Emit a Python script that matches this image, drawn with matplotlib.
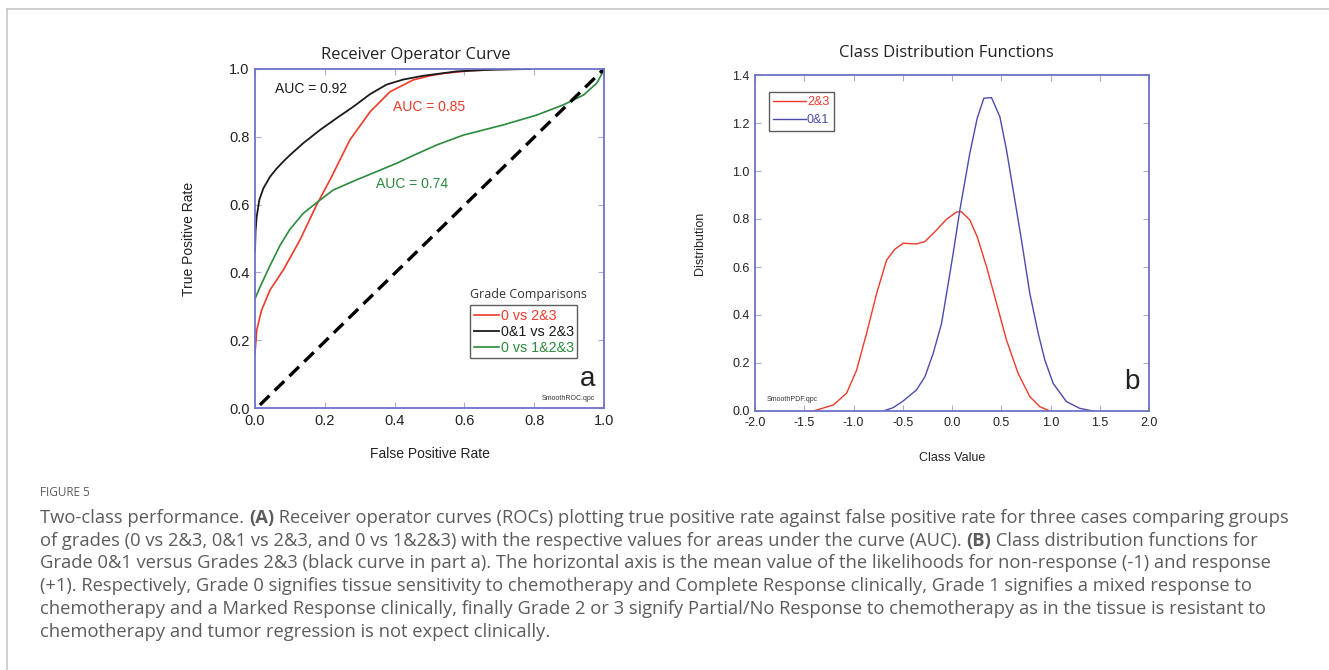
import matplotlib.pyplot as plt
from matplotlib.lines import Line2D

# ROC curves (false positive rate, true positive rate)
fpr_0_vs_23 = [0.0, 0.005, 0.019, 0.043, 0.081, 0.129, 0.177, 0.215, 0.272, 0.330, 0.387, 0.454,
               0.501, 0.540, 0.616, 0.70, 0.79]
tpr_0_vs_23 = [0.161, 0.230, 0.289, 0.348, 0.407, 0.496, 0.600, 0.673, 0.791, 0.874, 0.933, 0.968,
               0.980, 0.987, 0.995, 0.999, 1.0]

fpr_01_vs_23 = [0.0, 0.0015, 0.0048, 0.0124, 0.024, 0.043, 0.060, 0.080, 0.100, 0.138, 0.186, 0.234,
                0.282, 0.330, 0.377, 0.425, 0.482, 0.578, 0.68, 0.79]
tpr_01_vs_23 = [0.461, 0.52, 0.564, 0.614, 0.648, 0.682, 0.704, 0.726, 0.746, 0.781, 0.820, 0.855,
                0.889, 0.926, 0.954, 0.969, 0.980, 0.993, 0.998, 1.0]

fpr_0_vs_123 = [0.0, 0.014, 0.043, 0.072, 0.100, 0.138, 0.177, 0.224, 0.291, 0.350, 0.406, 0.460,
                0.521, 0.597, 0.711, 0.807, 0.883, 0.941, 0.979, 1.0]
tpr_0_vs_123 = [0.322, 0.356, 0.420, 0.480, 0.527, 0.574, 0.606, 0.643, 0.673, 0.698, 0.722, 0.748,
                0.776, 0.805, 0.835, 0.864, 0.894, 0.923, 0.958, 0.997]

chance_x = [0.014, 1.0]
chance_y = [0.009, 1.0]

auc_labels = ['AUC = 0.85', 'AUC = 0.92', 'AUC = 0.74']
roc_names = ['0 vs 2&3', '0&1 vs 2&3', '0 vs 1&2&3']

# class distribution functions
cls_23_x = [-1.408, -1.205, -1.07, -0.968, -0.867, -0.765, -0.664, -0.580, -0.495, -0.360, -0.275, -0.157,
            -0.055, 0.046, 0.097, 0.181, 0.256, 0.351, 0.452, 0.553, 0.671, 0.790, 0.891, 0.993]
cls_23_y = [0.0, 0.025, 0.074, 0.171, 0.324, 0.490, 0.629, 0.674, 0.699, 0.696, 0.706, 0.754,
            0.799, 0.829, 0.830, 0.796, 0.726, 0.601, 0.449, 0.296, 0.157, 0.060, 0.018, 0.0]

cls_01_x = [-0.698, -0.597, -0.495, -0.360, -0.275, -0.191, -0.106, -0.055, 0.012, 0.080, 0.181, 0.256,
            0.323, 0.401, 0.486, 0.553, 0.621, 0.705, 0.790, 0.875, 0.942, 1.027, 1.162, 1.297, 1.432]
cls_01_y = [0.0, 0.014, 0.042, 0.088, 0.143, 0.240, 0.365, 0.490, 0.657, 0.838, 1.074, 1.220,
            1.303, 1.306, 1.226, 1.088, 0.921, 0.713, 0.490, 0.324, 0.213, 0.115, 0.039, 0.011, 0.0]

cls_names = ['2&3', '0&1']

RED = '#ee3a2a'
BLACK = '#1a1a1a'
GREEN = '#2b8a3c'
BLUE = '#4a4cae'
FRAME = '#6e72c8'
TXT = '#222222'

plt.rcParams['font.family'] = ['Liberation Sans', 'DejaVu Sans']

fig = plt.figure(figsize=(13.29, 6.70), dpi=100)


def style_axes(ax, fs):
    for s in ax.spines.values():
        s.set_color(FRAME)
        s.set_linewidth(1.3)
    ax.tick_params(direction='in', length=4, width=0.8, color='#a8acdc', top=True, right=True,
                   labelsize=fs, labelcolor=TXT, pad=4)


# ---- panel a: ROC
ax1 = fig.add_axes([255 / 1329, 1 - 408 / 670, 349 / 1329, 339 / 670])
ax1.plot(fpr_0_vs_23, tpr_0_vs_23, color=RED, lw=1.2)
ax1.plot(fpr_01_vs_23, tpr_01_vs_23, color=BLACK, lw=1.3)
ax1.plot(fpr_0_vs_123, tpr_0_vs_123, color=GREEN, lw=1.2)
ax1.plot(chance_x, chance_y, color='black', lw=2.4, ls=(0, (4, 2.2)))
ax1.set_xlim(0, 1)
ax1.set_ylim(0, 1)
ax1.set_xticks([0, 0.2, 0.4, 0.6, 0.8, 1.0])
ax1.set_yticks([0, 0.2, 0.4, 0.6, 0.8, 1.0])
ax1.set_xticklabels(['0.0', '0.2', '0.4', '0.6', '0.8', '1.0'])
ax1.set_yticklabels(['0.0', '0.2', '0.4', '0.6', '0.8', '1.0'])
style_axes(ax1, 10.5)
ax1.set_title('Receiver Operator Curve', fontsize=12, family='Open Sans', color=TXT, pad=7,
              x=0.461)
ax1.set_xlabel('False Positive Rate', fontsize=10, color=TXT, labelpad=14)
ax1.set_ylabel('True Positive Rate', fontsize=10, color=TXT, labelpad=24)

ax1.text(0.057, 0.941, auc_labels[1], color=BLACK, fontsize=10, va='center')
ax1.text(0.395, 0.888, auc_labels[0], color=RED, fontsize=10, va='center')
ax1.text(0.347, 0.661, auc_labels[2], color=GREEN, fontsize=10, va='center')

handles = [Line2D([], [], color=RED, lw=1.2), Line2D([], [], color=BLACK, lw=1.3),
           Line2D([], [], color=GREEN, lw=1.2)]
leg = ax1.legend(handles, roc_names, loc='upper left', bbox_to_anchor=(0.616, 0.304),
                 fontsize=10.3, frameon=True, fancybox=False, edgecolor='#333333',
                 handlelength=1.8, handletextpad=0.1, borderpad=0.25, labelspacing=0.15,
                 borderaxespad=0)
leg.get_frame().set_linewidth(1.0)
for t, c in zip(leg.get_texts(), [RED, BLACK, GREEN]):
    t.set_color(c)
ax1.text(0.616, 0.336, 'Grade Comparisons', fontsize=9, family='Open Sans', color='#333333',
         va='center', ha='left', transform=ax1.transAxes)
ax1.text(0.975, 0.085, 'a', fontsize=20, color=TXT, ha='right', va='center', transform=ax1.transAxes)
ax1.text(0.975, 0.018, 'SmoothROC.qpc', fontsize=5, color='#333333', ha='right', va='bottom',
         transform=ax1.transAxes)

# ---- panel b: class distributions
ax2 = fig.add_axes([755 / 1329, 1 - 411 / 670, 394 / 1329, 336 / 670])
ax2.plot(cls_23_x, cls_23_y, color=RED, lw=1.0, label=cls_names[0])
ax2.plot(cls_01_x, cls_01_y, color=BLUE, lw=1.0, label=cls_names[1])
ax2.set_xlim(-2, 2)
ax2.set_ylim(0, 1.4)
ax2.set_xticks([-2, -1.5, -1, -0.5, 0, 0.5, 1, 1.5, 2])
ax2.set_xticklabels(['-2.0', '-1.5', '-1.0', '-0.5', '0.0', '0.5', '1.0', '1.5', '2.0'])
ax2.set_yticks([0, 0.2, 0.4, 0.6, 0.8, 1.0, 1.2, 1.4])
ax2.set_yticklabels(['0.0', '0.2', '0.4', '0.6', '0.8', '1.0', '1.2', '1.4'])
style_axes(ax2, 9)
ax2.set_title('Class Distribution Functions', fontsize=12, family='Open Sans', color=TXT, pad=13,
              x=0.485)
ax2.set_xlabel('Class Value', fontsize=9, color=TXT, labelpad=17)
ax2.set_ylabel('Distribution', fontsize=9, color=TXT, labelpad=19)
leg2 = ax2.legend(loc='upper left', bbox_to_anchor=(0.035, 0.95), fontsize=9, frameon=True,
                  fancybox=False, edgecolor='#333333', handlelength=2.6, handletextpad=0.1,
                  borderpad=0.35, labelspacing=0.5, borderaxespad=0)
leg2.get_frame().set_linewidth(1.0)
for t, c in zip(leg2.get_texts(), [RED, BLUE]):
    t.set_color(c)
ax2.text(0.975, 0.085, 'b', fontsize=20, color=TXT, ha='right', va='center', transform=ax2.transAxes)
ax2.text(0.03, 0.025, 'SmoothPDF.qpc', fontsize=5, color='#333333', ha='left', va='bottom',
         transform=ax2.transAxes)

# ---- page frame and caption
fig.add_artist(Line2D([7 / 1329, 1.0], [1 - 9 / 670, 1 - 9 / 670], color='#c8c8c8', lw=1.2))
fig.add_artist(Line2D([7 / 1329, 7 / 1329], [0, 1 - 9 / 670], color='#c8c8c8', lw=1.2))

CAP = '#5c5c5c'
CAP_FS = 13.2
fig.text(40 / 1329, 1 - 492 / 670, 'FIGURE 5', fontsize=8.5, family='Open Sans', color=CAP, va='center')

caption = [
    [('Two-class performance. ', False), ('(A)', True),
     (' Receiver operator curves (ROCs) plotting true positive rate against false positive rate for three cases comparing groups', False)],
    [('of grades (0 vs 2&3, 0&1 vs 2&3, and 0 vs 1&2&3) with the respective values for areas under the curve (AUC). ', False),
     ('(B)', True), (' Class distribution functions for', False)],
    [('Grade 0&1 versus Grades 2&3 (black curve in part a). The horizontal axis is the mean value of the likelihoods for non-response (-1) and response', False)],
    [('(+1). Respectively, Grade 0 signifies tissue sensitivity to chemotherapy and Complete Response clinically, Grade 1 signifies a mixed response to', False)],
    [('chemotherapy and a Marked Response clinically, finally Grade 2 or 3 signify Partial/No Response to chemotherapy as in the tissue is resistant to', False)],
    [('chemotherapy and tumor regression is not expect clinically.', False)],
]
line_y = [518, 541, 563, 586, 609, 632]

renderer = fig.canvas.get_renderer()
for segs, py in zip(caption, line_y):
    x = 40 / 1329
    for s, bold in segs:
        wt = 'bold' if bold else 'normal'
        fig.text(x, 1 - py / 670, s, fontsize=CAP_FS, family='Open Sans', color=CAP, va='center',
                 fontweight=wt)
        # measure with a trailing marker so that spaces count
        probe = fig.text(0, 0, s + '|', fontsize=CAP_FS, family='Open Sans', fontweight=wt)
        bar = fig.text(0, 0, '|', fontsize=CAP_FS, family='Open Sans', fontweight=wt)
        w = probe.get_window_extent(renderer).width - bar.get_window_extent(renderer).width
        probe.remove()
        bar.remove()
        x += w / fig.bbox.width

fig.savefig('out.png', dpi=100)
